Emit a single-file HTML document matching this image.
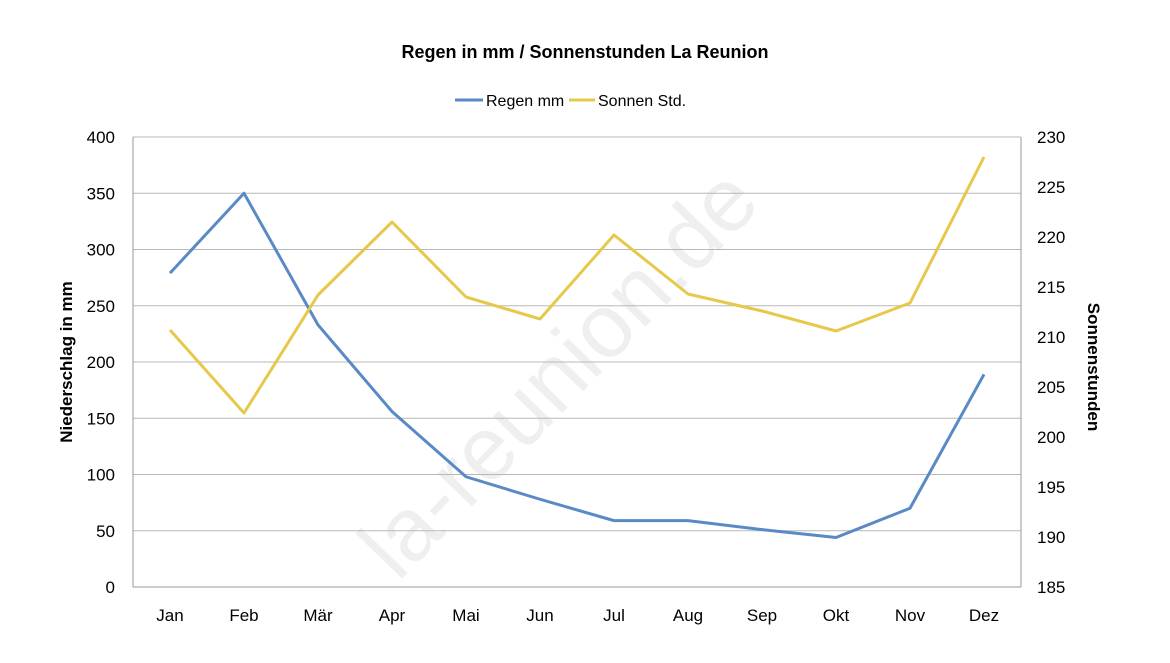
<!DOCTYPE html>
<html><head><meta charset="utf-8"><style>
html,body{margin:0;padding:0;background:#fff;}
svg text{font-family:"Liberation Sans",sans-serif;}
</style></head><body>
<svg id="chart" width="1170" height="658" xmlns="http://www.w3.org/2000/svg">
<text x="585" y="58" text-anchor="middle" font-size="18" font-weight="bold" fill="#000">Regen in mm / Sonnenstunden La Reunion</text>
<g>
<g><line x1="455" y1="100" x2="483" y2="100" stroke="#5a8ac6" stroke-width="3"/><text x="486" y="106" font-size="16">Regen mm</text></g>
<g><line x1="569" y1="100" x2="595" y2="100" stroke="#e6c84a" stroke-width="3"/><text x="598" y="106" font-size="16">Sonnen Std.</text></g>
</g>
<text x="0" y="0" transform="translate(398,583) rotate(-46)" font-size="90" fill="#000" opacity="0.06">la-reunion.de</text>
<g id="grid"></g>
<g id="axes"></g>
<g id="series"></g>
<text transform="translate(72,362) rotate(-90)" text-anchor="middle" font-size="17" font-weight="bold">Niederschlag in mm</text>
<text transform="translate(1088,367) rotate(90)" text-anchor="middle" font-size="17" font-weight="bold">Sonnenstunden</text>
</svg>
<script>
const months=["Jan","Feb","Mär","Apr","Mai","Jun","Jul","Aug","Sep","Okt","Nov","Dez"];
const regen=[279,350,233,156,98,78,59,59,51,44,70,189];
const sonnen=[210.7,202.4,214.2,221.5,214,211.8,220.2,214.3,212.6,210.6,213.4,228];
const leftTicks=[0,50,100,150,200,250,300,350,400];
const rightTicks=[185,190,195,200,205,210,215,220,225,230];
const L=133,R=1021,T=137,B=587;
const NS="http://www.w3.org/2000/svg";
const x=i=>L+(R-L)/months.length*(i+0.5);
const yL=v=>B-(v-0)/(400-0)*(B-T);
const yR=v=>B-(v-185)/(230-185)*(B-T);
function mk(tag,attrs,parent,txt){const e=document.createElementNS(NS,tag);for(const k in attrs)e.setAttribute(k,attrs[k]);if(txt!=null)e.textContent=txt;document.getElementById(parent).appendChild(e);return e;}
leftTicks.forEach(v=>{
 const g=mk("line",{x1:L,x2:R,y1:yL(v),y2:yL(v),stroke:"#b8b8b8","stroke-width":1},"grid");
 
 
 const t=mk("text",{x:L-18,y:yL(v)+6,"text-anchor":"end","font-size":17},"axes",v);
 
 
});
rightTicks.forEach(v=>{
 const t=mk("text",{x:R+16,y:yR(v)+6,"font-size":17},"axes",v);
 
 
});
months.forEach((m,i)=>{
 const t=mk("text",{x:x(i),y:B+34,"text-anchor":"middle","font-size":17},"axes",m);
 
 
});
[[L,T,L,B],[R,T,R,B],[L,B,R,B]].forEach(a=>{
 const l=mk("line",{x1:a[0],y1:a[1],x2:a[2],y2:a[3],stroke:"#999","stroke-width":1},"axes");
 
 
});
const p1=mk("polyline",{points:regen.map((v,i)=>x(i)+","+yL(v)).join(" "),fill:"none",stroke:"#5a8ac6","stroke-width":3,"stroke-linejoin":"round"},"series");


const p2=mk("polyline",{points:sonnen.map((v,i)=>x(i)+","+yR(v)).join(" "),fill:"none",stroke:"#e6c84a","stroke-width":3,"stroke-linejoin":"round"},"series");


</script>
</body></html>
